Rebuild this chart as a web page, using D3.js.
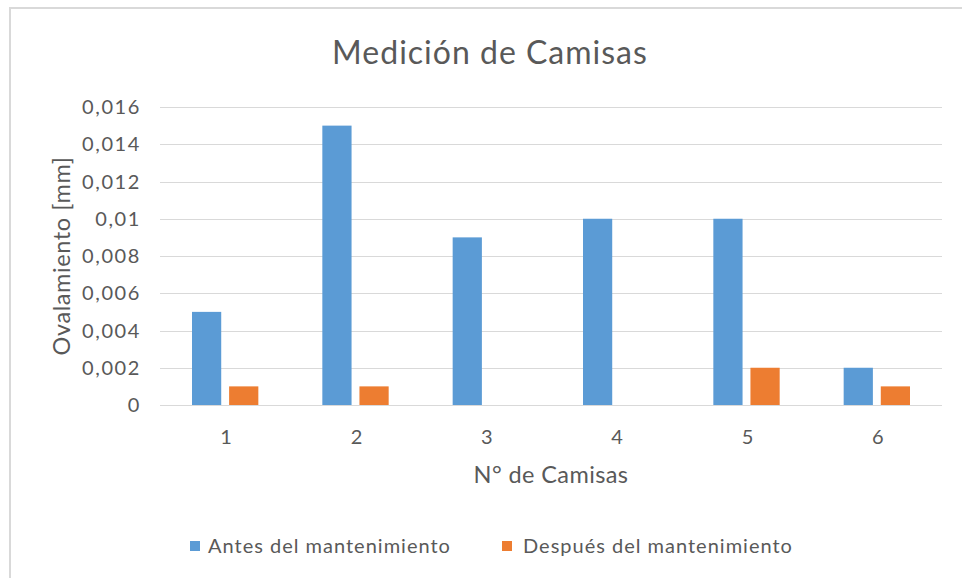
<!DOCTYPE html>
<html>
<head>
<meta charset="utf-8">
<script src="https://cdn.jsdelivr.net/npm/d3@7"></script>
<style>
  body { margin: 0; background: #fff; }
  text { font-family: Lato, "Open Sans", sans-serif; fill: #595959; }
</style>
</head>
<body>
<div id="chart"></div>
<script>
'use strict';

const categories = ['1', '2', '3', '4', '5', '6'];
const antes = [0.005, 0.015, 0.009, 0.010, 0.010, 0.002];
const despues = [0.001, 0.001, 0, 0, 0.002, 0.001];
const seriesNames = ['Antes del mantenimiento', 'Después del mantenimiento'];
const seriesColors = ['#5B9BD5', '#ED7D31'];
const yTicks = [0, 0.002, 0.004, 0.006, 0.008, 0.01, 0.012, 0.014, 0.016];

const W = 962, H = 578;
const plot = { left: 160, right: 942, top: 107, bottom: 405 };

const svg = d3.select('#chart').append('svg').attr('width', W).attr('height', H);

// chart frame (only top and left edges visible in the original)
svg.append('path')
  .attr('d', 'M10,578 L10,8 L962,8')
  .attr('fill', 'none').attr('stroke', '#D9D9D9').attr('stroke-width', 2);

const x0 = d3.scaleBand().domain(categories).range([plot.left, plot.right]).paddingInner(0).paddingOuter(0);
const y = d3.scaleLinear().domain([0, 0.016]).range([plot.bottom, plot.top]);

// gridlines
svg.append('g').selectAll('line').data(yTicks).enter().append('line')
  .attr('x1', plot.left).attr('x2', plot.right)
  .attr('y1', function(d){ return Math.round(y(d)) + 0.5; })
  .attr('y2', function(d){ return Math.round(y(d)) + 0.5; })
  .attr('stroke', '#D9D9D9').attr('stroke-width', 1);

// y tick labels
const fmt = function(d){ return d === 0 ? '0' : String(+d.toFixed(3)).replace('.', ','); };
svg.append('g').selectAll('text').data(yTicks).enter().append('text')
  .attr('x', 141).attr('y', function(d){ return y(d); })
  .attr('dy', '0.35em').attr('text-anchor', 'end')
  .style('font-size', '20px').style('letter-spacing', '1.6px')
  .text(fmt);

// bars: Excel style, gap width 219% and overlap -27%
const bw = x0.bandwidth() / (2 + 0.27 + 2.19);
const gap = 0.27 * bw;
const data = [antes, despues];
data.forEach(function(vals, s) {
  svg.append('g').selectAll('rect').data(vals).enter().append('rect')
    .attr('x', function(d, i){ return x0(categories[i]) + x0.bandwidth() / 2 - bw - gap / 2 + s * (bw + gap); })
    .attr('y', function(d){ return y(d); })
    .attr('width', bw)
    .attr('height', function(d){ return y(0) - y(d); })
    .attr('fill', seriesColors[s]);
});

// x tick labels
svg.append('g').selectAll('text').data(categories).enter().append('text')
  .attr('x', function(d){ return x0(d) + x0.bandwidth() / 2 + 1; })
  .attr('y', 444).attr('text-anchor', 'middle')
  .style('font-size', '20px')
  .text(function(d){ return d; });

// title
svg.append('text').attr('x', 490).attr('y', 64).attr('text-anchor', 'middle')
  .style('font-size', '32px').style('letter-spacing', '1px').text('Medición de Camisas');

// axis titles
svg.append('text').attr('x', 551).attr('y', 483).attr('text-anchor', 'middle')
  .style('font-size', '23.5px').style('letter-spacing', '0.4px').text('N° de Camisas');
svg.append('text').attr('transform', 'translate(70,256) rotate(-90)').attr('text-anchor', 'middle')
  .style('font-size', '23.5px').style('letter-spacing', '0.6px').text('Ovalamiento [mm]');

// legend
const legX = [190, 502];
seriesNames.forEach(function(name, s) {
  svg.append('rect').attr('x', legX[s]).attr('y', 541).attr('width', 10).attr('height', 10).attr('fill', seriesColors[s]);
  svg.append('text').attr('x', legX[s] + 18 + (s ? 3 : 0)).attr('y', 553)
    .style('font-size', '20px').style('letter-spacing', '1px').text(name);
});
</script>
</body>
</html>
